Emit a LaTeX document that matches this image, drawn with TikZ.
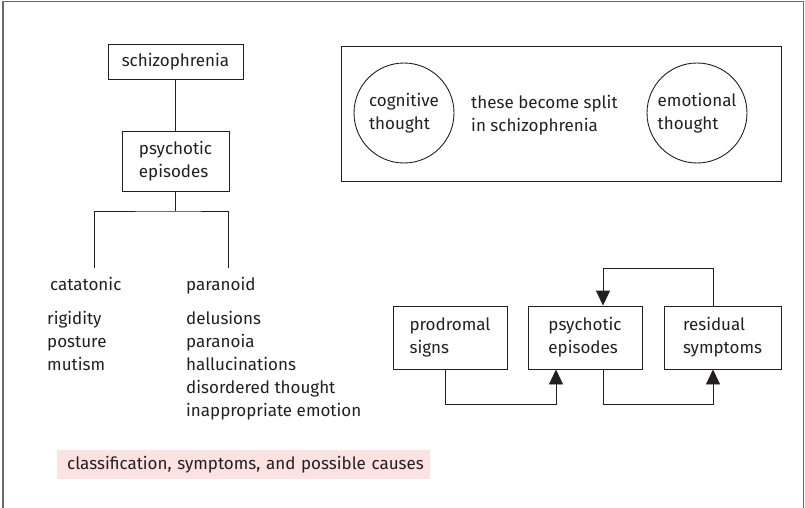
\documentclass[tikz,border=0pt]{standalone}
\usepackage{fontspec}
\setmainfont{Fira Sans}
\usetikzlibrary{arrows.meta,calc}
\definecolor{ink}{HTML}{231F20}
\definecolor{framegray}{HTML}{6A6A6A}
\definecolor{pinkbg}{HTML}{FDE2E2}
\begin{document}
\begin{tikzpicture}[x=1pt,y=-1pt,
  font=\fontsize{17}{23}\selectfont,
  every node/.style={text=ink},
  line/.style={draw=ink,line width=0.9pt},
  boxed/.style={draw=ink,line width=0.9pt,align=left,inner sep=0pt},
  txt/.style={inner sep=0pt,align=left},
  arr/.style={draw=ink,line width=0.9pt,-{Triangle[length=15pt,width=14pt]}}]
\useasboundingbox (0,0) rectangle (805,508);
% frame
\draw[framegray,line width=1.8pt] (3,508) -- (3,1.5) -- (803.5,1.5) -- (803.5,508);
% left tree
\node[boxed,minimum width=135pt,minimum height=35pt] (schiz) at (175.5,61.5) {schizophrenia};
\node[boxed,minimum width=107pt,minimum height=60pt] (pe1) at (175.5,161) {psychotic\\episodes};
\coordinate (br) at (175.5,211);
\coordinate (cL) at (94,268);
\coordinate (cR) at (228,268);
\draw[line] (schiz) -- (pe1);
\draw[line] (pe1) -- (br);
\draw[line] (cL) |- (br) -| (cR);
\node[txt,anchor=base west] (cat) at (50,290) {catatonic};
\node[txt,anchor=base west] (par) at (186,290) {paranoid};
\node[txt,anchor=north west] (catl) at (47,311) {rigidity\\posture\\mutism};
\node[txt,anchor=north west] (parl) at (186,311) {delusions\\paranoia\\hallucinations\\disordered thought\\inappropriate emotion};
% caption
\node[fill=pinkbg,inner sep=0pt,minimum height=29pt,text width=373pt,align=left,anchor=west] (cap) at (57,464.5) {\hspace{10pt}classification, symptoms, and possible causes};
% split box
\node[draw=ink,line width=0.9pt,minimum width=440pt,minimum height=135pt,inner sep=0pt] (splitbox) at (561,113.5) {};
\node[draw=ink,line width=0.9pt,circle,minimum size=100pt,inner sep=0pt,align=left] (cog) at (404,113) {cognitive\\thought};
\node[draw=ink,line width=0.9pt,circle,minimum size=100pt,inner sep=0pt,align=left] (emo) at (697,113) {emotional\\thought};
\node[txt,anchor=west] (split) at (471,115) {these become split\\in schizophrenia};
% cycle
\node[boxed,minimum width=114pt,minimum height=63pt] (prod) at (450,337.5) {prodromal\\signs};
\node[boxed,minimum width=114pt,minimum height=63pt] (pe2) at (585,337.5) {psychotic\\episodes};
\node[boxed,minimum width=117pt,minimum height=63pt] (res) at (722.5,337.5) {residual\\symptoms};
\draw[arr] ([xshift=-5pt]prod.south) -- ++(0,35) -| ([xshift=-29pt]pe2.south);
\draw[arr] ([xshift=18pt]pe2.south) -- ++(0,35) -| ([xshift=-9.5pt]res.south);
\draw[arr] ([xshift=-9.5pt]res.north) -- ++(0,-37) -| ([xshift=18pt]pe2.north);
\end{tikzpicture}
\end{document}
